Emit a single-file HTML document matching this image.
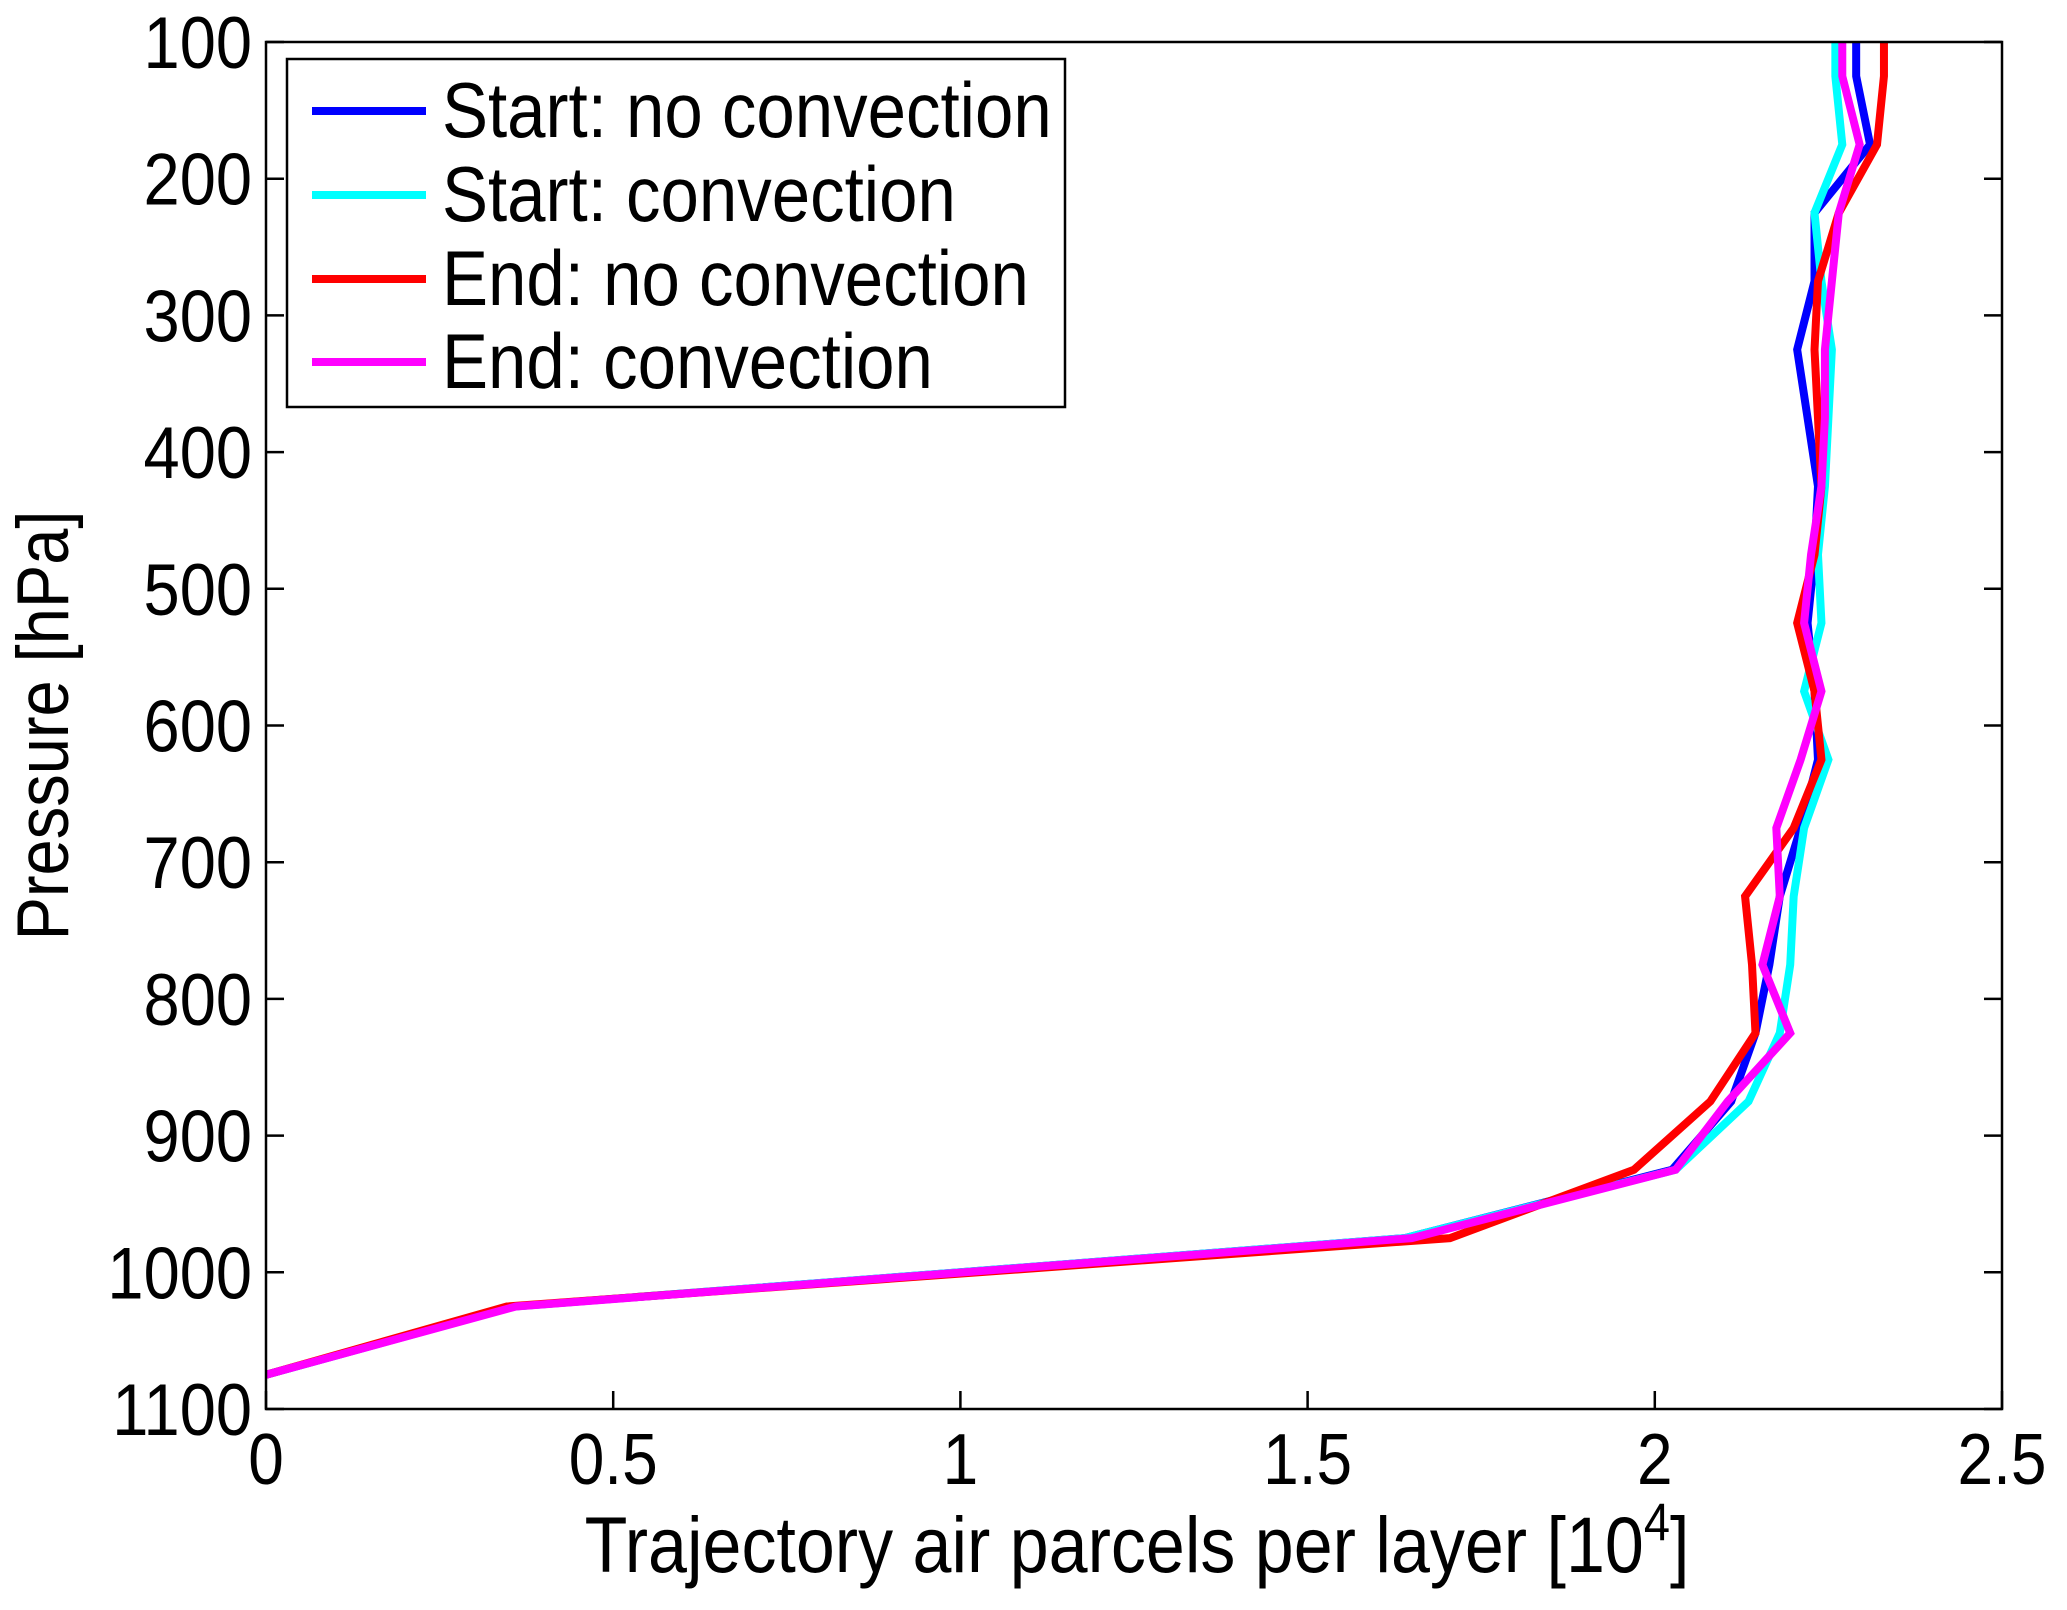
<!DOCTYPE html>
<html><head><meta charset="utf-8"><style>
html,body{margin:0;padding:0;background:#fff;}
svg{display:block;font-family:"Liberation Sans",Arial,sans-serif;}
</style></head><body>
<svg id="chart" width="2067" height="1610" viewBox="0 0 2067 1610" xmlns="http://www.w3.org/2000/svg"></svg>
<script>
const pressureLevels=[125,175,225,275,325,375,425,475,525,575,625,675,725,775,825,875,925,975,1025,1075];
const startNoConv=[2.29,2.31,2.23,2.23,2.205,2.22,2.235,2.23,2.22,2.23,2.235,2.21,2.18,2.165,2.145,2.11,2.025,1.64,0.357,0];
const startConv=[2.26,2.27,2.23,2.24,2.255,2.25,2.245,2.235,2.24,2.215,2.25,2.215,2.2,2.195,2.18,2.135,2.03,1.64,0.357,0];
const endNoConv=[2.33,2.32,2.265,2.235,2.23,2.235,2.24,2.23,2.205,2.23,2.24,2.2,2.13,2.14,2.145,2.08,1.97,1.705,0.347,0];
const endConv=[2.27,2.295,2.265,2.255,2.245,2.245,2.24,2.225,2.215,2.24,2.21,2.175,2.18,2.155,2.195,2.105,2.03,1.65,0.36,0];
const seriesNames=["Start: no convection","Start: convection","End: no convection","End: convection"];
const seriesColors=["#0000ff","#00ffff","#ff0000","#ff00ff"];
const xTicks=[0,0.5,1,1.5,2,2.5];
const xTickLabels=["0","0.5","1","1.5","2","2.5"];
const yTicks=[100,200,300,400,500,600,700,800,900,1000,1100];

const NS="http://www.w3.org/2000/svg";
const svg=document.getElementById('chart');
const L=266,R=2002,T=42,B=1409;
const SY=1.13;
const xS=v=>L+(v-0)/(2.5-0)*(R-L);
const yS=p=>T+(p-100)/(1100-100)*(B-T);
function mk(tag,attrs,parent){const e=document.createElementNS(NS,tag);for(const k in attrs)e.setAttribute(k,attrs[k]);(parent||svg).appendChild(e);return e;}
function txt(x,y,size,anchor,parent,extra){
  return mk('text',{x:0,y:0,'font-size':size,'text-anchor':anchor,fill:'#000',transform:'translate('+x+','+y+') '+(extra||'')+' scale(1,'+SY+')'},parent);
}

const defs=mk('defs',{});
const cp=mk('clipPath',{id:'clip'},defs);
mk('rect',{x:L,y:T,width:R-L,height:B-T},cp);

const allSeries=[startNoConv,startConv,endNoConv,endConv];
const seriesKeys=['start-no-convection','start-convection','end-no-convection','end-convection'];
const g=mk('g',{'clip-path':'url(#clip)'});
allSeries.forEach((vals,i)=>{
  let pts=[[xS(vals[0]),yS(100)]];
  vals.forEach((v,j)=>pts.push([xS(v),yS(pressureLevels[j])]));
  const pl=mk('polyline',{points:pts.map(p=>p.join(',')).join(' '),fill:'none',stroke:seriesColors[i],'stroke-width':8,'stroke-linejoin':'miter'},g);
  
  
});

const box=mk('rect',{x:L,y:T,width:R-L,height:B-T,fill:'none',stroke:'#000','stroke-width':2.5});



xTicks.forEach((v,i)=>{
  const x=xS(v);
  const t1=mk('line',{x1:x,y1:B,x2:x,y2:B-18,stroke:'#000','stroke-width':2.5});
  
  
  const tx=txt(x,B+75,64,'middle');
  tx.textContent=xTickLabels[i];
  
  
});
yTicks.forEach(p=>{
  const y=yS(p);
  const t1=mk('line',{x1:L,y1:y,x2:L+18,y2:y,stroke:'#000','stroke-width':2.5});
  
  
  const t2=mk('line',{x1:R,y1:y,x2:R-18,y2:y,stroke:'#000','stroke-width':2.5});
  
  
  const tx=txt(L-14,y+26,65,'end');
  tx.textContent=String(p);
  
  
});

const xt=txt((L+R)/2+3,1572,70,'middle');


xt.appendChild(document.createTextNode('Trajectory air parcels per layer [10'));
const sup=mk('tspan',{dy:-28,'font-size':47},xt);sup.textContent='4';
const cl=mk('tspan',{dy:28},xt);cl.textContent=']';

const yt=txt(68,(T+B)/2,65,'middle',null,'rotate(-90)');
yt.textContent='Pressure [hPa]';



const lg=mk('g',{});


mk('rect',{x:287,y:59,width:778,height:348,fill:'#fff',stroke:'#000','stroke-width':2.5},lg);
const ly=[111,195,279,362];
seriesNames.forEach((n,i)=>{
  const e=mk('g',{},lg);
  
  
  mk('line',{x1:312,y1:ly[i],x2:426,y2:ly[i],stroke:seriesColors[i],'stroke-width':8},e);
  const t=txt(442,ly[i]+26,69,'start',e);
  t.textContent=n;
});
</script>
</body></html>
